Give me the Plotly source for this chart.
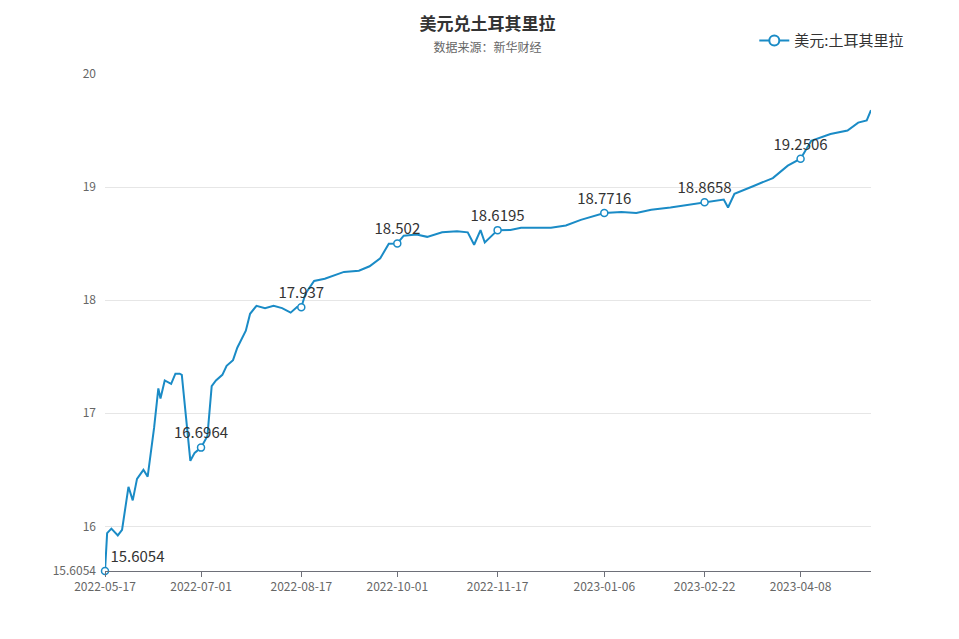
import plotly.graph_objects as go

dates = ['2022-05-17', '2022-05-18', '2022-05-20', '2022-05-23', '2022-05-25', '2022-05-28',
         '2022-05-30', '2022-06-01', '2022-06-04', '2022-06-06', '2022-06-09', '2022-06-11',
         '2022-06-12', '2022-06-14', '2022-06-17', '2022-06-19', '2022-06-21', '2022-06-22',
         '2022-06-24', '2022-06-26', '2022-06-28', '2022-07-01', '2022-07-04', '2022-07-06',
         '2022-07-08', '2022-07-11', '2022-07-13', '2022-07-16', '2022-07-18', '2022-07-22',
         '2022-07-24', '2022-07-27', '2022-07-31', '2022-08-04', '2022-08-08', '2022-08-12',
         '2022-08-15', '2022-08-17', '2022-08-19', '2022-08-23', '2022-08-28', '2022-09-02',
         '2022-09-06', '2022-09-13', '2022-09-18', '2022-09-23', '2022-09-27', '2022-10-01',
         '2022-10-04', '2022-10-10', '2022-10-15', '2022-10-22', '2022-10-29', '2022-11-03',
         '2022-11-06', '2022-11-09', '2022-11-11', '2022-11-17', '2022-11-23', '2022-11-28',
         '2022-12-05', '2022-12-12', '2022-12-19', '2022-12-26', '2023-01-06', '2023-01-14',
         '2023-01-21', '2023-01-28', '2023-02-06', '2023-02-16', '2023-02-22', '2023-03-03',
         '2023-03-05', '2023-03-08', '2023-03-17', '2023-03-26', '2023-04-02', '2023-04-08',
         '2023-04-13', '2023-04-22', '2023-04-30', '2023-05-05', '2023-05-09', '2023-05-11']
values = [15.6054, 15.94, 15.98, 15.92, 15.97, 16.35,
          16.23, 16.42, 16.50, 16.44, 16.87, 17.22,
          17.13, 17.29, 17.26, 17.35, 17.35, 17.34,
          16.96, 16.58, 16.65, 16.6964, 16.80, 17.24,
          17.29, 17.34, 17.42, 17.47, 17.58, 17.73,
          17.88, 17.95, 17.93, 17.95, 17.93, 17.89,
          17.94, 17.937, 18.06, 18.17, 18.19, 18.22,
          18.25, 18.26, 18.30, 18.37, 18.50, 18.502,
          18.57, 18.58, 18.56, 18.60, 18.61, 18.60,
          18.49, 18.62, 18.51, 18.6195, 18.62, 18.64,
          18.64, 18.64, 18.66, 18.71, 18.7716, 18.78,
          18.77, 18.80, 18.82, 18.85, 18.8658, 18.89,
          18.82, 18.94, 19.01, 19.08, 19.19, 19.2506,
          19.41, 19.47, 19.50, 19.57, 19.59, 19.68]

tick_dates = ['2022-05-17', '2022-07-01', '2022-08-17', '2022-10-01', '2022-11-17',
              '2023-01-06', '2023-02-22', '2023-04-08']

label_x = [d for d in dates if d in tick_dates]
label_y = [v for d, v in zip(dates, values) if d in tick_dates]
label_pos = ['top right'] + ['top center'] * (len(label_x) - 1)

color = '#1a8bc6'

fig = go.Figure()
fig.add_trace(go.Scatter(x=dates, y=values, mode='lines', name='美元:土耳其里拉',
                         line=dict(color=color, width=2), showlegend=False))
fig.add_trace(go.Scatter(x=label_x, y=label_y, mode='markers+text', name='美元:土耳其里拉',
                         text=[str(v) for v in label_y], textposition=label_pos,
                         textfont=dict(size=15, color='#333'),
                         marker=dict(color='white', size=7, line=dict(color=color, width=1.5)),
                         showlegend=False, cliponaxis=False))
# legend entry
fig.add_trace(go.Scatter(x=[None], y=[None], mode='lines+markers', name='美元:土耳其里拉',
                         line=dict(color=color, width=2),
                         marker=dict(color='white', size=10, line=dict(color=color, width=2))))

fig.update_layout(
    width=959, height=639,
    paper_bgcolor='white', plot_bgcolor='white',
    font=dict(family='Noto Sans CJK SC', color='#666', size=12),
    title=dict(text='<b>美元兑土耳其里拉</b><br><span style="font-size:12px;color:#666">数据来源：新华财经</span>',
               x=0.5, y=0.965, xanchor='center', yanchor='top',
               font=dict(size=17, color='#333')),
    margin=dict(l=97, r=96, t=66, b=76),
    legend=dict(x=1.05, y=1.1, xanchor='right', yanchor='top',
                font=dict(size=15, color='#333'), bgcolor='rgba(0,0,0,0)'),
    xaxis=dict(type='date', range=['2022-05-17', '2023-05-11'], automargin=False,
               tickvals=tick_dates, ticktext=tick_dates,
               showgrid=False, showline=True, linecolor='#6e7079',
               ticks='outside', tickcolor='#6e7079', ticklen=5,
               tickfont=dict(size=12, color='#666'), zeroline=False),
    yaxis=dict(range=[15.6054, 20], tickvals=[15.6054, 16, 17, 18, 19, 20],
               ticktext=['15.6054', '16', '17', '18', '19', '20'], automargin=False,
               showgrid=True, gridcolor='#e6e6e6', showline=False, zeroline=False,
               tickfont=dict(size=12, color='#666'), ticks='', ticklabelstandoff=8),
)

fig.write_html("out.html")
